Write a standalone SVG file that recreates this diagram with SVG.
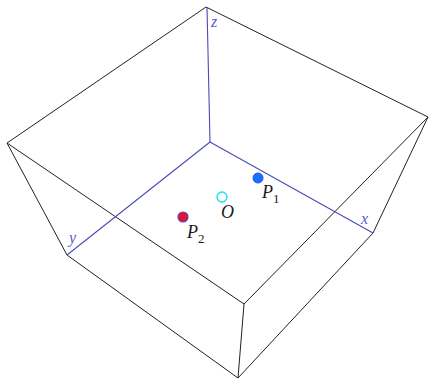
<svg xmlns="http://www.w3.org/2000/svg" width="430" height="383" viewBox="0 0 430 383">
<style>
.edge{stroke:#222;stroke-width:1;fill:none}
.axis{stroke:#4a4ab8;stroke-width:1.1;fill:none}
.alab{font-family:"Liberation Serif",serif;font-style:italic;font-size:16px;fill:#5a5ad0}
.plab{font-family:"Liberation Serif",serif;font-style:italic;font-size:18px;fill:#1a1a1a}
.sub{font-family:"Liberation Serif",serif;font-style:normal;font-size:13px;fill:#1a1a1a}
</style>
<rect width="430" height="383" fill="#fff"/>
<g id="connectors">
<polyline class="edge" points="7,143 206,7 428,117 244,304 7,143"/>
<line class="edge" x1="7" y1="143" x2="67" y2="255"/>
<line class="edge" x1="428" y1="117" x2="373" y2="233"/>
<line class="edge" x1="244" y1="304" x2="238" y2="378"/>
<polyline class="edge" points="67,255 238,378 373,233"/>
<line class="axis" x1="207" y1="7" x2="210" y2="142"/>
<line class="axis" x1="210" y1="142" x2="373" y2="233"/>
<line class="axis" x1="210" y1="142" x2="67" y2="255"/>
</g>
<g id="axis-z"><text class="alab" x="211" y="27">z</text></g>
<g id="axis-x"><text class="alab" x="361" y="224">x</text></g>
<g id="axis-y"><text class="alab" x="69" y="243">y</text></g>
<g id="P1">
<circle cx="258" cy="178" r="5" fill="#1470ff" stroke="#3050d0" stroke-width="1"/>
<text class="plab" x="262" y="198">P<tspan class="sub" dy="5">1</tspan></text>
</g>
<g id="O">
<circle cx="222" cy="197" r="5" fill="#fff" stroke="#10e0f0" stroke-width="1.3"/>
<text class="plab" x="221" y="218">O</text>
</g>
<g id="P2">
<circle cx="183" cy="217" r="5" fill="#e8102a" stroke="#5a40c0" stroke-width="1.2"/>
<text class="plab" x="187" y="238">P<tspan class="sub" dy="5">2</tspan></text>
</g>
</svg>
